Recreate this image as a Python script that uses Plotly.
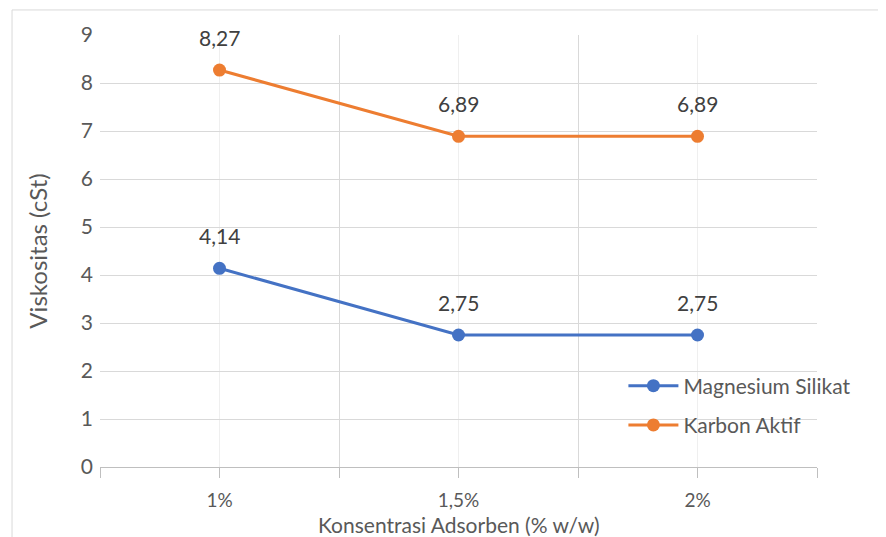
import plotly.graph_objects as go

# data
kategori = ["1%", "1,5%", "2%"]
magnesium_silikat = [4.14, 2.75, 2.75]
karbon_aktif = [8.27, 6.89, 6.89]

BIRU = "#4472C4"
ORANYE = "#ED7D31"
FONT = "Lato, Carlito, Calibri, sans-serif"
TEKS = "#595959"

x_pos = list(range(len(kategori)))

fig = go.Figure()

for nama, nilai, warna in [("Magnesium Silikat", magnesium_silikat, BIRU),
                           ("Karbon Aktif", karbon_aktif, ORANYE)]:
    fig.add_trace(go.Scatter(
        x=x_pos, y=nilai, name=nama, mode="lines+markers",
        legendgroup=nama,
        line=dict(color=warna, width=3),
        marker=dict(color=warna, size=13),
    ))
    # label nilai di atas titik
    for xi, v in zip(x_pos, nilai):
        fig.add_annotation(
            x=xi, y=v, text=f"{v:.2f}".replace(".", ","),
            showarrow=False, yshift=33,
            font=dict(family=FONT, size=21, color="#404040"),
        )

# judul sumbu x sebagai anotasi supaya tidak terpotong
fig.add_annotation(
    x=0.5, y=-0.134, xref="paper", yref="paper",
    text="Konsentrasi Adsorben (% w/w)", showarrow=False,
    xanchor="center", yanchor="middle",
    font=dict(family=FONT, size=21, color=TEKS),
)

# bingkai area grafik
fig.add_shape(type="rect", xref="paper", yref="paper",
              x0=-0.1227, x1=1.2, y0=-0.3, y1=1.058,
              line=dict(color="#d9d9d9", width=1), layer="below")

# halaman html punya margin body 8px, jadi margin grafik dikurangi 8
fig.update_layout(
    width=886, height=537,
    margin=dict(l=92, r=77, t=27, b=78),
    paper_bgcolor="white", plot_bgcolor="white",
    font=dict(family=FONT, color=TEKS),
    showlegend=True,
    legend=dict(x=0.73, y=0.235, xanchor="left", yanchor="top",
                bgcolor="rgba(0,0,0,0)", font=dict(size=21, color=TEKS),
                tracegroupgap=9, itemwidth=50),
    xaxis=dict(
        range=[-0.5, 2.5],
        tickmode="array", tickvals=x_pos, ticktext=kategori,
        showgrid=True, gridcolor="#efefef", gridwidth=1,
        ticks="outside", ticklen=10, tickcolor="#bfbfbf",
        ticklabelstandoff=6,
        tickfont=dict(size=19, color=TEKS),
        showline=True, linecolor="#bfbfbf", linewidth=1,
        zeroline=False,
        minor=dict(tickmode="array", tickvals=[-0.5, 0.5, 1.5, 2.5],
                   showgrid=True, gridcolor="#d9d9d9", gridwidth=1,
                   ticks="outside", ticklen=10, tickcolor="#bfbfbf"),
    ),
    yaxis=dict(
        range=[0, 9], dtick=1,
        showgrid=True, gridcolor="#d9d9d9", gridwidth=1,
        zeroline=False, showline=False,
        ticks="", ticklabelstandoff=6,
        tickfont=dict(size=21, color=TEKS),
        title=dict(text="Viskositas (cSt)", standoff=26,
                   font=dict(size=24, color=TEKS)),
    ),
)

fig.write_html("out.html")
